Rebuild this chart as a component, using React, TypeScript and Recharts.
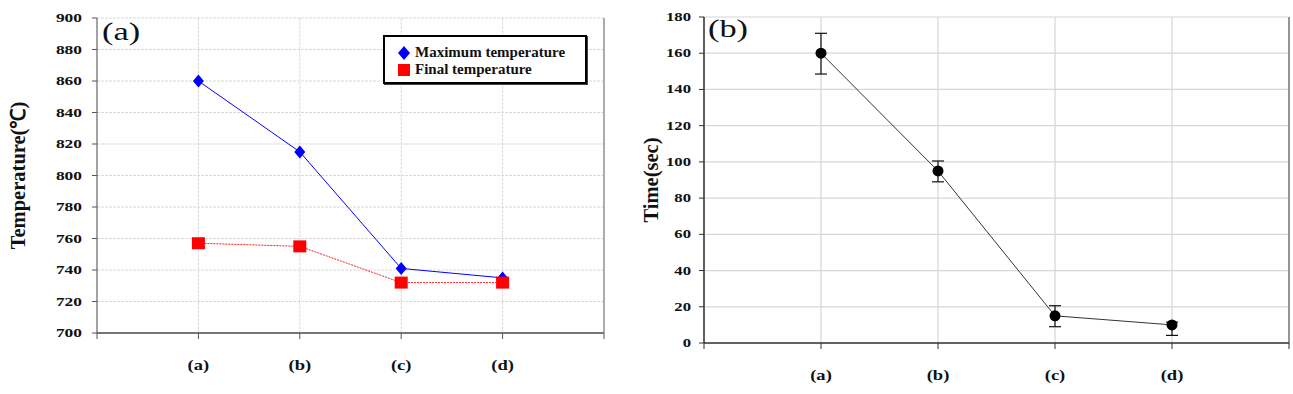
import { LineChart, Line, XAxis, YAxis, CartesianGrid, ErrorBar, ReferenceLine, Legend } from 'recharts';

const categories = ['(a)', '(b)', '(c)', '(d)'];
const maxTemperature = [860, 815, 741, 735];
const finalTemperature = [757, 755, 732, 732];
const tempTicks = [700, 720, 740, 760, 780, 800, 820, 840, 860, 880, 900];

const timeValues = [160, 95, 15, 10];
const timeErrLow = [11.5, 6, 6, 5.8];
const timeErrHigh = [11, 5.5, 5.6, 1.5];
const timeTicks = [0, 20, 40, 60, 80, 100, 120, 140, 160, 180];

const xTicks = [0, 1, 2, 3, 4, 5];

const tempData = categories.map((c, i) => ({
  x: i + 1,
  name: c,
  max: maxTemperature[i],
  final: finalTemperature[i],
}));

const timeData = categories.map((c, i) => ({
  x: i + 1,
  name: c,
  time: timeValues[i],
  err: [timeErrLow[i], timeErrHigh[i]],
}));

const serif = '"Liberation Serif", "Times New Roman", serif';
const xLabel = (v: number) => (v >= 1 && v <= categories.length ? categories[v - 1] : '');

// the original figure's text is drawn wide, so labels get a horizontal stretch
const YTick = (props: any) => {
  const { x, y, payload, fs, sx } = props;
  return (
    <text
      transform={`translate(${x},${y}) scale(${sx},1)`}
      x={0}
      y={0}
      dominantBaseline="central"
      textAnchor="end"
      fontFamily={serif}
      fontWeight={700}
      fontSize={fs}
      fill="#111"
    >
      {payload.value}
    </text>
  );
};

const XTick = (props: any) => {
  const { x, y, payload, fs, sx } = props;
  return (
    <text
      transform={`translate(${x},${y}) scale(${sx},1)`}
      x={0}
      y={0}
      dominantBaseline="central"
      textAnchor="middle"
      fontFamily={serif}
      fontWeight={700}
      fontSize={fs}
      fill="#111"
    >
      {xLabel(payload.value)}
    </text>
  );
};

const AxisTitle = (props: any) => {
  const { viewBox, title, px, fs } = props;
  const cy = viewBox.y + viewBox.height / 2;
  return (
    <text
      x={px}
      y={cy}
      transform={`rotate(-90, ${px}, ${cy})`}
      textAnchor="middle"
      dominantBaseline="central"
      fontFamily={serif}
      fontWeight={700}
      fontSize={fs}
      fill="#111"
    >
      {title}
    </text>
  );
};

const Diamond = (props: any) => {
  const { cx, cy } = props;
  if (cx == null || cy == null) return null;
  return <path d={`M${cx},${cy - 6.5}L${cx + 5.5},${cy}L${cx},${cy + 6.5}L${cx - 5.5},${cy}Z`} fill="#0000ff" />;
};

const Square = (props: any) => {
  const { cx, cy } = props;
  if (cx == null || cy == null) return null;
  return <rect x={cx - 6.5} y={cy - 6} width={13} height={12} fill="#ff0000" />;
};

const TempLegend = () => (
  <div
    style={{
      border: '2px solid #000',
      boxShadow: '1px 1px 0 #444',
      background: '#fff',
      width: 204,
      height: 49,
      boxSizing: 'border-box',
      padding: '7px 0 0 12px',
      fontFamily: serif,
      fontWeight: 700,
      fontSize: 15,
      lineHeight: '17px',
      color: '#111',
    }}
  >
    <div style={{ display: 'flex', alignItems: 'center' }}>
      <svg width={14} height={14} style={{ marginRight: 4 }}>
        <path d="M7,0L13,7L7,14L1,7Z" fill="#0000ff" />
      </svg>
      Maximum temperature
    </div>
    <div style={{ display: 'flex', alignItems: 'center' }}>
      <svg width={14} height={14} style={{ marginRight: 4 }}>
        <rect x={1} y={1} width={12} height={12} fill="#ff0000" />
      </svg>
      Final temperature
    </div>
  </div>
);

const panelLabel = {
  position: 'absolute' as const,
  fontFamily: serif,
  fontSize: 26,
  lineHeight: 1,
  color: '#111',
  transform: 'scaleX(1.32)',
  transformOrigin: 'left top',
};

export default function App() {
  return (
    <div style={{ position: 'absolute', left: 0, top: 0, width: 1293, height: 394, background: '#fff' }}>
      <div style={{ position: 'absolute', left: 0, top: 0 }}>
        <LineChart width={620} height={394} data={tempData} margin={{ top: 18, right: 16, bottom: 31, left: 0 }}>
          <CartesianGrid stroke="#dadada" strokeDasharray="3 1" />
          <XAxis
            dataKey="x"
            type="number"
            domain={[0, 5]}
            ticks={xTicks}
            height={30}
            tickSize={6}
            tickMargin={26}
            tick={<XTick fs={14.5} sx={1.28} />}
            axisLine={{ stroke: '#777', strokeWidth: 2 }}
            tickLine={{ stroke: '#555' }}
          />
          <YAxis
            type="number"
            domain={[700, 900]}
            ticks={tempTicks}
            width={97}
            tickSize={5}
            tickMargin={10}
            tick={<YTick fs={12} sx={1.45} />}
            axisLine={{ stroke: '#555' }}
            tickLine={{ stroke: '#555' }}
            label={<AxisTitle title="Temperature(℃)" px={18} fs={20.5} />}
          />
          <ReferenceLine x={5} stroke="#666" />
          <Legend
            layout="horizontal"
            verticalAlign="middle"
            align="center"
            wrapperStyle={{ position: 'absolute', left: 383, top: 35, width: 204, height: 49 }}
            content={() => <TempLegend />}
          />
          <Line
            dataKey="max"
            stroke="#0000ff"
            strokeWidth={1}
            dot={<Diamond />}
            activeDot={false}
            isAnimationActive={false}
          />
          <Line
            dataKey="final"
            stroke="#ff2020"
            strokeWidth={1}
            strokeDasharray="2 1"
            dot={<Square />}
            activeDot={false}
            isAnimationActive={false}
          />
        </LineChart>
        <div style={{ ...panelLabel, left: 102, top: 19 }}>(a)</div>
      </div>

      <div style={{ position: 'absolute', left: 638, top: 0 }}>
        <LineChart width={655} height={394} data={timeData} margin={{ top: 17, right: 4, bottom: 19, left: 0 }}>
          <CartesianGrid stroke="#d6d6d6" strokeWidth={1.2} />
          <XAxis
            dataKey="x"
            type="number"
            domain={[0, 5]}
            ticks={xTicks}
            height={32}
            tickSize={6}
            tickMargin={26}
            tick={<XTick fs={14.5} sx={1.28} />}
            axisLine={{ stroke: '#333', strokeWidth: 1.5 }}
            tickLine={{ stroke: '#333' }}
          />
          <YAxis
            type="number"
            domain={[0, 180]}
            ticks={timeTicks}
            width={66}
            tickSize={5}
            tickMargin={8}
            tick={<YTick fs={11.5} sx={1.45} />}
            axisLine={{ stroke: '#333', strokeWidth: 1.5 }}
            tickLine={{ stroke: '#333' }}
            label={<AxisTitle title="Time(sec)" px={13} fs={20.5} />}
          />
          <ReferenceLine x={5} stroke="#444" />
          <Line
            dataKey="time"
            stroke="#333"
            strokeWidth={1}
            dot={{ r: 5.5, fill: '#000', stroke: '#000', strokeWidth: 0 }}
            activeDot={false}
            isAnimationActive={false}
          >
            <ErrorBar dataKey="err" width={6} stroke="#111" strokeWidth={1.2} direction="y" />
          </Line>
        </LineChart>
        <div style={{ ...panelLabel, left: 70, top: 16 }}>(b)</div>
      </div>
    </div>
  );
}
